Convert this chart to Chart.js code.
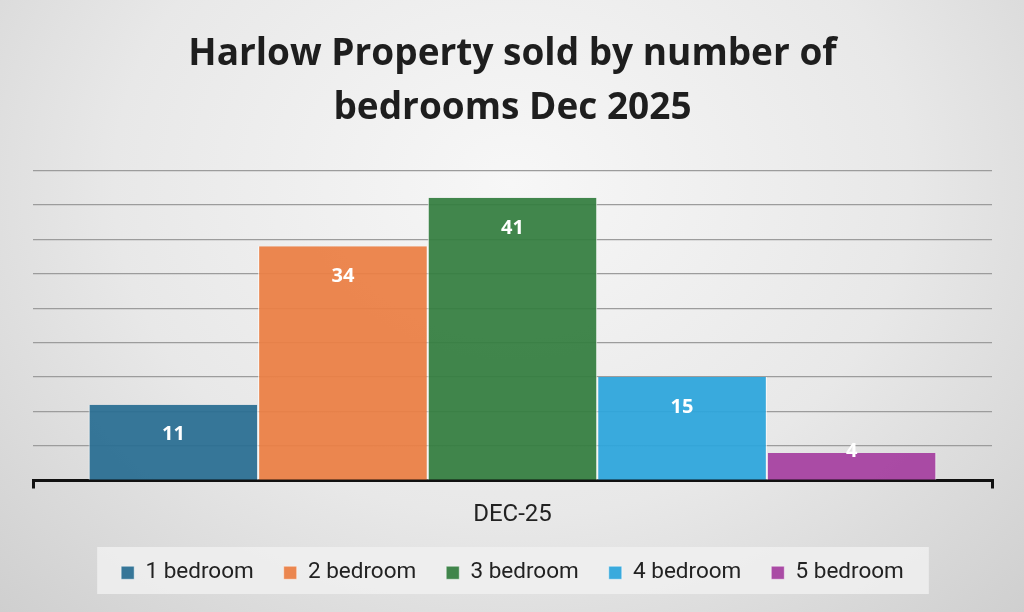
<!DOCTYPE html>
<html>
<head>
<meta charset="utf-8">
<script src="https://cdn.jsdelivr.net/npm/chart.js@4"></script>
<style>
  html, body { margin: 0; padding: 0; }
  body {
    width: 1024px; height: 612px; overflow: hidden;
    background: radial-gradient(ellipse at 50% 30%, #f7f7f7 0%, #e8e8e8 55%, #cfcfcf 100%);
  }
  #wrap { position: relative; width: 1024px; height: 612px; }
</style>
</head>
<body>
<div id="wrap"><canvas id="chart" width="1024" height="612"></canvas></div>
<script>
// ---- data ----
const categories = ['DEC-25'];
const seriesNames = ['1 bedroom', '2 bedroom', '3 bedroom', '4 bedroom', '5 bedroom'];
const seriesValues = [11, 34, 41, 15, 4];
const seriesColours = ['#2a6f93', '#eb7f45', '#357e41', '#2ea6dc', '#a641a0'];
const titleLines = ['Harlow Property sold by number of', 'bedrooms Dec 2025'];

// white value labels near the top of each bar
const valueLabels = {
  id: 'valueLabels',
  afterDatasetsDraw(chart) {
    const ctx = chart.ctx;
    ctx.save();
    ctx.font = 'bold 20px "Open Sans", sans-serif';
    ctx.fillStyle = '#ffffff';
    ctx.textAlign = 'center';
    ctx.textBaseline = 'middle';
    chart.data.datasets.forEach(function(ds, i) {
      const bar = chart.getDatasetMeta(i).data[0];
      const h = bar.base - bar.y;
      const y = h > 45 ? bar.y + 30 : bar.y - 2;
      ctx.fillText(ds.data[0], bar.x, y);
    });
    ctx.restore();
  }
};

// light panel behind the legend
const legendPanel = {
  id: 'legendPanel',
  beforeDraw(chart) {
    const lg = chart.legend;
    if (!lg || !lg.legendHitBoxes || !lg.legendHitBoxes.length) return;
    const boxes = lg.legendHitBoxes;
    const left = boxes[0].left - 24;
    const right = boxes[boxes.length - 1].left + boxes[boxes.length - 1].width + 25;
    const ctx = chart.ctx;
    ctx.save();
    ctx.fillStyle = 'rgba(240,240,240,0.85)';
    ctx.fillRect(left, 547, right - left, 47);
    ctx.restore();
  }
};

new Chart(document.getElementById('chart'), {
  type: 'bar',
  data: {
    labels: categories,
    datasets: seriesNames.map(function(name, i) {
      return {
        label: name,
        data: [seriesValues[i]],
        backgroundColor: seriesColours[i] + 'f0',
        borderColor: 'rgba(255,255,255,0.9)',
        borderWidth: { left: 1, right: 1, top: 0, bottom: 0 },
        borderSkipped: false,
        barPercentage: 1,
        categoryPercentage: 0.884
      };
    })
  },
  options: {
    responsive: false,
    animation: false,
    devicePixelRatio: 1,
    layout: { padding: { left: 33, right: 32, top: 0, bottom: 18 } },
    scales: {
      x: {
        grid: { display: true, drawOnChartArea: false, drawTicks: true, tickLength: 8, color: '#111', lineWidth: 3 },
        border: { display: true, color: '#111', width: 3 },
        ticks: { color: '#222', font: { size: 24, family: 'Roboto, sans-serif' }, padding: 12 },
        afterFit: function(scale) { scale.height = 51; }
      },
      y: {
        min: 0,
        max: 45,
        ticks: { display: false, stepSize: 5 },
        grid: { color: '#9c9c9c', lineWidth: 1.3, drawTicks: false },
        border: { display: false }
      }
    },
    plugins: {
      title: {
        display: true,
        text: titleLines,
        color: '#1e1e1e',
        font: { size: 37, weight: 'bold', family: '"Open Sans", sans-serif', lineHeight: 1.45 },
        padding: { top: 28, bottom: 35 }
      },
      legend: {
        position: 'bottom',
        labels: {
          color: '#222',
          font: { size: 22.5, family: 'Roboto, sans-serif' },
          boxWidth: 13,
          boxHeight: 13,
          padding: 30
        }
      },
      tooltip: { enabled: false }
    }
  },
  plugins: [valueLabels, legendPanel]
});
</script>
</body>
</html>
